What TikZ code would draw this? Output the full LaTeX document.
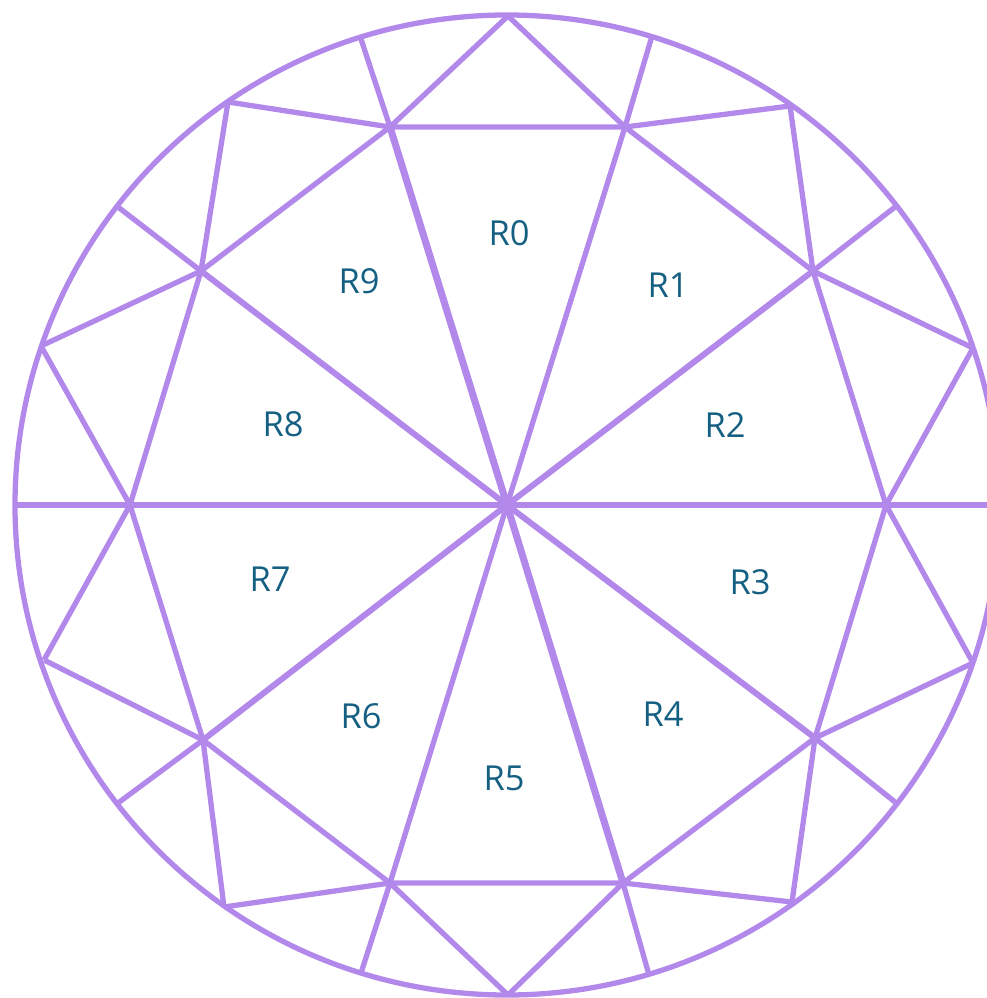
\documentclass[tikz,border=0pt]{standalone}
\usepackage{xcolor}
\usepackage{fontspec}
\setmainfont{Open Sans}
\definecolor{wheel}{HTML}{B388EB}
\definecolor{wheeltext}{HTML}{156082}
\begin{document}
\begin{tikzpicture}[
    x=0.1mm, y=-0.1mm,
    edge/.style={draw=wheel, line width=1.5pt, line join=miter},
    spoke/.style={draw=wheel, line width=1.5pt},
    midspoke/.style={draw=wheel, line width=1.7pt},
    heavy/.style={draw=wheel, line width=2pt},
    region/.style={text=wheeltext, font=\fontsize{9.8pt}{11pt}\selectfont, inner sep=0pt}
  ]
    \useasboundingbox (0,0) rectangle (987,998);
    % inner ring
    \coordinate (a0) at (390,127);
    \coordinate (a1) at (625,127);
    \coordinate (a2) at (813,271);
    \coordinate (a3) at (886,505);
    \coordinate (a4) at (815,738);
    \coordinate (a5) at (623,883);
    \coordinate (a6) at (390,883);
    \coordinate (a7) at (203,740);
    \coordinate (a8) at (130,505);
    \coordinate (a9) at (201,271);
    \coordinate (hub) at (507,505);
    % outer points
    \coordinate (top) at (508,16);
    \coordinate (b1) at (652,36);
    \coordinate (b2) at (790,106);
    \coordinate (b3) at (895,207);
    \coordinate (b4) at (973,348);
    \coordinate (b5) at (987,505);
    \coordinate (b6) at (973,663);
    \coordinate (b7) at (895,802);
    \coordinate (b8) at (792,902);
    \coordinate (b9) at (649,975);
    \coordinate (bot) at (508,995);
    \coordinate (b11) at (361,973);
    \coordinate (b12) at (224,907);
    \coordinate (b13) at (118,803);
    \coordinate (b14) at (44,660);
    \coordinate (b15) at (15,505);
    \coordinate (b16) at (41,346);
    \coordinate (b17) at (118,207);
    \coordinate (b18) at (228,102);
    \coordinate (b19) at (360,36);
    \begin{scope}
      \clip (0,0) rectangle (987,998);
      \draw[edge] (507,505) circle [x radius=492, y radius=490];
    \end{scope}
    \foreach \i in {1,3,6,8} \draw[spoke] (hub) -- (a\i);
    \foreach \i in {2,4,7,9} \draw[midspoke] (hub) -- (a\i);
    \foreach \i in {0,5} \draw[heavy] (hub) -- (a\i);
    \draw[edge] (a0) -- (a1) -- (a2) -- (a3) -- (a4) -- (a5) -- (a6) -- (a7) -- (a8) -- (a9) -- cycle;
    \foreach \p/\q in {top/a0, top/a1, a1/b1, a1/b2, b2/a2, a2/b3, a2/b4, b4/a3, a3/b5, a3/b6,
      b6/a4, a4/b7, a4/b8, b8/a5, a5/b9, a5/bot, bot/a6, a6/b11, a6/b12, b12/a7,
      a7/b13, a7/b14, b14/a8, a8/b15, a8/b16, b16/a9, a9/b17, a9/b18, b18/a0, a0/b19}
      \draw[edge] (\p) -- (\q);
    \node[region] (r0) at (509,233) {R0};
    \node[region] (r1) at (668,285) {R1};
    \node[region] (r2) at (725,425) {R2};
    \node[region] (r3) at (750,582) {R3};
    \node[region] (r4) at (663,714) {R4};
    \node[region] (r5) at (504,778) {R5};
    \node[region] (r6) at (361,716) {R6};
    \node[region] (r7) at (270,579) {R7};
    \node[region] (r8) at (283,424) {R8};
    \node[region] (r9) at (359,281) {R9};
  \end{tikzpicture}
\end{document}
